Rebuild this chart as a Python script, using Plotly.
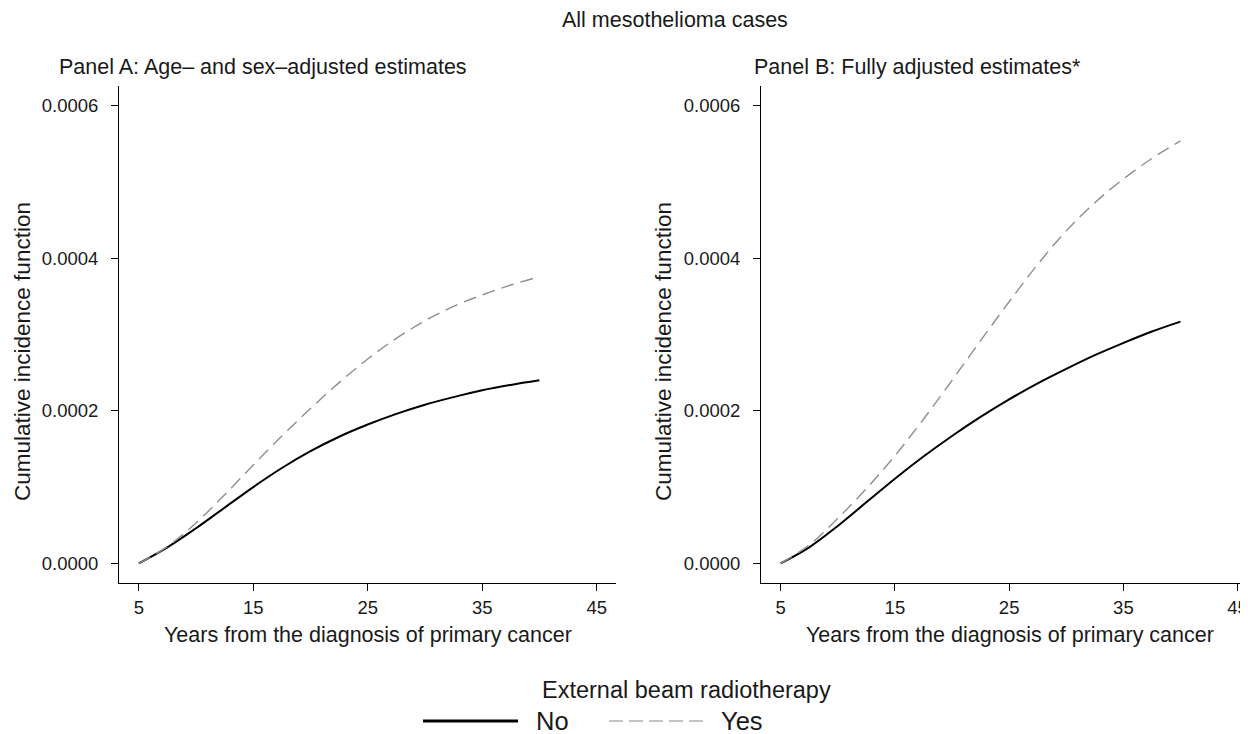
import plotly.graph_objects as go

# ---- data ----
years = [5, 7.5, 10, 12.5, 15, 17.5, 20, 22.5, 25, 27.5, 30, 32.5, 35, 37.5, 40]
panelA_no = [0, 0.000021, 0.000046, 0.000073, 0.000100, 0.000125, 0.000147, 0.000166,
             0.000182, 0.000196, 0.000208, 0.000218, 0.000227, 0.000234, 0.000240]
panelA_yes = [0, 0.000022, 0.000053, 0.000090, 0.000129, 0.000167, 0.000203, 0.000237,
              0.000268, 0.000295, 0.000318, 0.000337, 0.000352, 0.000365, 0.000376]
panelB_no = [0, 0.000021, 0.000049, 0.000080, 0.000111, 0.000140, 0.000167, 0.000192,
             0.000215, 0.000236, 0.000255, 0.000273, 0.000289, 0.000304, 0.000317]
panelB_yes = [0, 0.000024, 0.000059, 0.000098, 0.000141, 0.000189, 0.000240, 0.000292,
              0.000343, 0.000392, 0.000436, 0.000473, 0.000504, 0.000531, 0.000554]

x_ticks = [5, 15, 25, 35, 45]
y_ticks = [0, 0.0002, 0.0004, 0.0006]
main_title = "All mesothelioma cases"
panel_titles = ["Panel A: Age\u2013 and sex\u2013adjusted estimates", "Panel B: Fully adjusted estimates*"]
x_title = "Years from the diagnosis of primary cancer"
y_title = "Cumulative incidence function"
legend_title = "External beam radiotherapy"
legend_labels = ["No", "Yes"]

# page body has an 8px margin: figure is placed at (8, 8)
OFF = 8
W, H = 1248 - OFF, 734 - OFF
FONT = "Liberation Sans, Arial, sans-serif"
TXT = "#1a1a1a"


def px(x):
    return (x - OFF) / W


def py(y):
    return 1 - (y - OFF) / H


fig = go.Figure()

solid = dict(color="black", width=2)
dashed = dict(color="#8f8f8f", width=1.4, dash="13px,7px")

fig.add_trace(go.Scatter(x=years, y=panelA_no, mode="lines", line=dict(shape="spline", **solid),
                         xaxis="x", yaxis="y", showlegend=False, name=legend_labels[0]))
fig.add_trace(go.Scatter(x=years, y=panelA_yes, mode="lines", line=dict(shape="spline", **dashed),
                         xaxis="x", yaxis="y", showlegend=False, name=legend_labels[1]))
fig.add_trace(go.Scatter(x=years, y=panelB_no, mode="lines", line=dict(shape="spline", **solid),
                         xaxis="x2", yaxis="y2", showlegend=False, name=legend_labels[0]))
fig.add_trace(go.Scatter(x=years, y=panelB_yes, mode="lines", line=dict(shape="spline", **dashed),
                         xaxis="x2", yaxis="y2", showlegend=False, name=legend_labels[1]))

tickfont = dict(family=FONT, size=18.5, color=TXT)
ydom = [py(583.3), py(86)]
yrange = [-0.0000262, 0.000626]

common_x = dict(showline=True, linecolor="black", linewidth=1, ticks="outside", ticklen=7,
                tickcolor="black", tickwidth=1, showgrid=False, zeroline=False,
                tickvals=x_ticks, tickfont=tickfont, ticklabelstandoff=0,
                ticklabeloverflow="allow")
common_y = dict(showline=True, linecolor="black", linewidth=1, ticks="outside", ticklen=7,
                tickcolor="black", tickwidth=1, showgrid=False, zeroline=False,
                tickvals=y_ticks, tickformat=".4f", tickfont=tickfont, range=yrange,
                domain=ydom, ticklabelstandoff=9)

fig.update_layout(
    width=W, height=H,
    margin=dict(l=0, r=0, t=0, b=0),
    paper_bgcolor="white", plot_bgcolor="white",
    font=dict(family=FONT, color=TXT),
    xaxis=dict(domain=[px(119), px(616)], range=[3.27, 46.69], anchor="y", **common_x),
    yaxis=dict(anchor="x", **common_y),
    xaxis2=dict(domain=[px(761), 1.0], range=[3.28, 45.91], anchor="y2", **common_x),
    yaxis2=dict(anchor="x2", **common_y),
)

ann = []
big = dict(family=FONT, size=21.5, color=TXT)
ytf = dict(family=FONT, size=22.5, color=TXT)
ann.append(dict(text=main_title, x=px(675), y=py(20), xanchor="center", yanchor="middle", font=big))
ann.append(dict(text=panel_titles[0], x=px(57), y=py(67), xanchor="left", yanchor="middle", font=big))
ann.append(dict(text=panel_titles[1], x=px(752), y=py(67), xanchor="left", yanchor="middle", font=big))
ann.append(dict(text=x_title, x=px(367.5), y=py(635), xanchor="center", yanchor="middle", font=big))
ann.append(dict(text=x_title, x=px(1010), y=py(635), xanchor="center", yanchor="middle", font=big))
ann.append(dict(text=y_title, x=px(22), y=py(352), xanchor="center", yanchor="middle",
                textangle=-90, font=ytf))
ann.append(dict(text=y_title, x=px(663), y=py(352), xanchor="center", yanchor="middle",
                textangle=-90, font=ytf))
ann.append(dict(text=legend_title, x=px(686), y=py(690), xanchor="center", yanchor="middle",
                font=dict(family=FONT, size=23.5, color=TXT)))
legfont = dict(family=FONT, size=25.5, color=TXT)
ann.append(dict(text=legend_labels[0], x=px(534), y=py(721), xanchor="left", yanchor="middle", font=legfont))
ann.append(dict(text=legend_labels[1], x=px(719), y=py(721), xanchor="left", yanchor="middle", font=legfont))
for a in ann:
    a.update(xref="paper", yref="paper", showarrow=False)
fig.update_layout(annotations=ann)

# legend keys
fig.add_shape(type="line", xref="paper", yref="paper", x0=px(423), x1=px(518), y0=py(721), y1=py(721),
              line=dict(color="black", width=3))
fig.add_shape(type="line", xref="paper", yref="paper", x0=px(609), x1=px(705), y0=py(721), y1=py(721),
              line=dict(color="#b0b0b0", width=1.5, dash="14px,6px"))

fig.write_html("out.html")
